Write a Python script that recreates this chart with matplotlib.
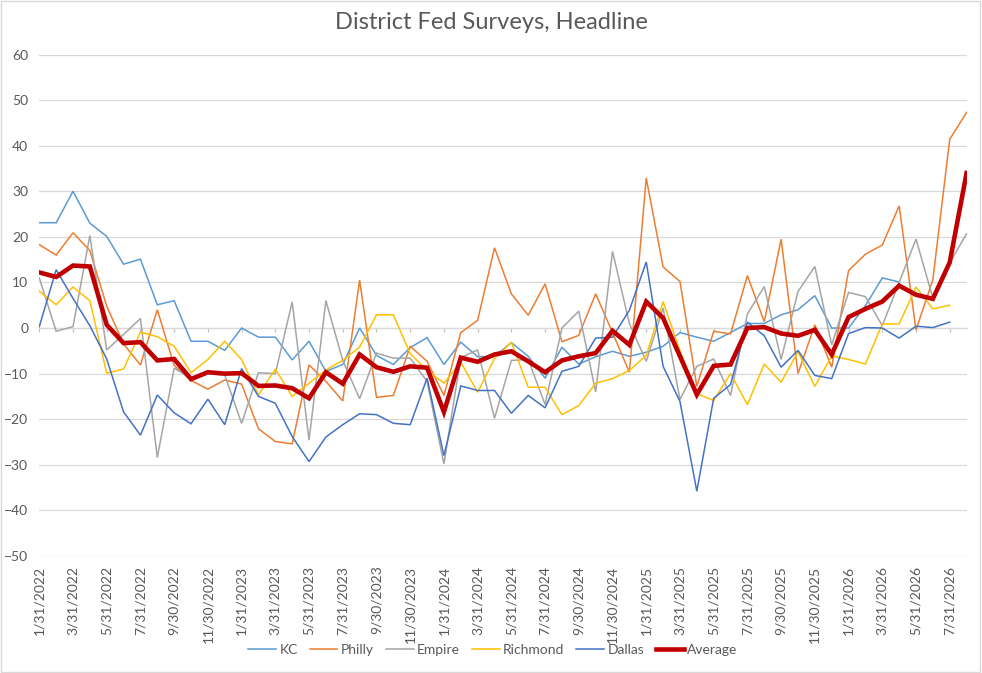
import numpy as np
import pandas as pd
import matplotlib
matplotlib.use("Agg")
import matplotlib.pyplot as plt
from matplotlib.patches import Rectangle

plt.rcParams['font.family'] = ['Lato', 'DejaVu Sans']

nan = np.nan
dates = pd.date_range("2022-01-31", periods=56, freq="ME")

kc = [23.1, 23.1, 30.0, 23.0, 20.1, 14.0, 15.1, 5.1, 6.0, -2.9,
      -2.9, -4.9, 0.0, -2.0, -2.0, -7.0, -2.9, -9.5, -8.0, 0.0,
      -6.0, -8.0, -4.3, -2.1, -8.0, -3.1, -6.3, -6.2, -3.2, -6.2,
      -11.0, -4.2, -7.9, -6.3, -5.1, -6.2, -5.3, -4.0, -1.0, -2.0,
      -2.9, -1.0, 1.0, 1.0, 2.9, 4.0, 7.1, 0.0, 0.0, 4.9,
      11.0, 10.1, nan, nan, nan, nan]
philly = [18.3, 16.0, 20.9, 17.0, 4.8, -3.5, -8.1, 4.0, -8.2, -11.5,
          -13.4, -11.4, -12.3, -22.1, -24.9, -25.4, -8.1, -11.7, -16.0, 10.5,
          -15.2, -14.8, -4.0, -7.3, -14.8, -1.0, 1.7, 17.6, 7.5, 2.8,
          9.7, -3.0, -1.6, 7.5, -1.0, -9.7, 32.9, 13.4, 10.2, -12.8,
          -0.7, -1.3, 11.5, 1.4, 19.5, -10.0, 0.7, -8.6, 12.6, 16.2,
          18.2, 26.8, -0.4, 10.6, 41.4, 47.3]
empire = [11.0, -0.7, 0.3, 20.3, -4.8, -1.4, 2.1, -28.4, -8.8, -11.0,
          -10.0, -10.3, -20.9, -9.8, -10.0, 5.7, -24.6, 6.0, -7.1, -15.5,
          -5.5, -6.6, -6.6, -11.7, -29.8, -6.5, -4.8, -19.8, -7.1, -6.9,
          -16.8, 0.0, 3.7, -14.0, 16.8, 1.0, -7.3, 4.4, -15.7, -8.4,
          -6.8, -14.8, 3.1, 9.1, -6.9, 8.0, 13.5, -3.7, 7.8, 6.9,
          0.5, 10.0, 19.5, 6.6, 14.3, 20.7]
richmond = [8.1, 5.1, 9.0, 6.0, -9.9, -9.0, -0.9, -1.9, -4.0, -9.8,
            -6.9, -2.9, -6.9, -14.7, -9.0, -15.0, -12.1, -9.2, -7.1, -4.2,
            2.9, 2.9, -5.6, -9.3, -12.1, -7.5, -14.1, -6.7, -3.1, -13.0,
            -13.0, -19.0, -17.0, -12.1, -11.1, -9.3, -6.0, 5.8, -5.0, -14.4,
            -15.9, -10.0, -16.8, -7.9, -11.9, -5.2, -12.8, -6.1, -6.9, -7.9,
            0.9, 0.9, 9.0, 4.2, 5.0, nan]
dallas = [0.3, 12.8, 6.5, 0.5, -6.8, -18.4, -23.5, -14.7, -18.6, -21.0,
          -15.6, -21.2, -8.9, -15.0, -16.5, -23.8, -29.3, -23.9, -21.2, -18.8,
          -19.0, -20.9, -21.2, -11.0, -28.0, -12.7, -13.7, -13.7, -18.7, -14.8,
          -17.5, -9.5, -8.4, -2.2, -2.0, 3.9, 14.5, -8.4, -16.1, -35.8,
          -15.4, -12.4, 1.3, -1.7, -8.6, -4.9, -10.4, -11.1, -1.2, 0.1,
          0.0, -2.2, 0.4, 0.1, 1.3, nan]
average = [12.2, 11.2, 13.7, 13.5, 0.7, -3.3, -3.1, -7.1, -6.8, -11.2,
           -9.7, -10.0, -9.9, -12.7, -12.6, -13.2, -15.4, -9.7, -12.2, -5.8,
           -8.6, -9.6, -8.4, -8.7, -18.4, -6.5, -7.4, -5.8, -5.1, -7.3,
           -9.7, -7.1, -6.2, -5.5, -0.6, -3.7, 5.8, 2.2, -6.2, -14.6,
           -8.3, -8.0, 0.0, 0.2, -1.2, -1.7, -0.4, -5.8, 2.4, 4.2,
           5.8, 9.3, 7.3, 6.4, 14.4, 34.0]

series_names = ["KC", "Philly", "Empire", "Richmond", "Dallas", "Average"]
series_values = [kc, philly, empire, richmond, dallas, average]
colors = ["#5B9BD5", "#ED7D31", "#A5A5A5", "#FFC000", "#4472C4", "#C00000"]
widths = [1.1, 1.1, 1.1, 1.1, 1.1, 3.3]

yticks = list(range(-50, 61, 10))
tick_idx = list(range(0, 56, 2))
tick_labels = [f"{d.month}/{d.day}/{d.year}" for d in dates[tick_idx]]

fig = plt.figure(figsize=(9.82, 6.73), dpi=100)
fig.patches.append(Rectangle((0.001, 0.001), 0.997, 0.997, transform=fig.transFigure,
                             fill=False, edgecolor="#D9D9D9", linewidth=1.0))
ax = fig.add_axes([0.0400, 0.1739, 0.9443, 0.7451])

x = np.arange(len(dates))
for name, vals, c, lw in zip(series_names, series_values, colors, widths):
    ax.plot(x, vals, color=c, linewidth=lw, label=name, solid_joinstyle="miter", zorder=3)

ax.set_xlim(0, len(dates) - 1)
ax.set_ylim(-50, 60)
ax.set_yticks(yticks)
ax.yaxis.grid(True, color="#D9D9D9", linewidth=0.9, zorder=0)
ax.set_axisbelow(True)
for s in ["top", "right", "left"]:
    ax.spines[s].set_visible(False)
ax.spines["bottom"].set_position(("data", 0))
ax.spines["bottom"].set_color("#D9D9D9")
ax.spines["bottom"].set_linewidth(0.9)
ax.set_xticks(tick_idx)
ax.tick_params(axis="x", direction="out", length=3, color="#BFBFBF", labelbottom=False)
ax.tick_params(axis="y", length=0, pad=8, labelsize=10, labelcolor="#595959")

for i, lab in zip(tick_idx, tick_labels):
    ax.annotate(lab, xy=(i, 0), xycoords=("data", "axes fraction"), xytext=(0, -7),
                textcoords="offset points", rotation=90, ha="center", va="top",
                fontsize=10, color="#595959")

fig.text(0.5, 0.966, "District Fed Surveys, Headline", ha="center", va="center",
         fontsize=17, color="#595959")

leg = fig.legend(loc="center", bbox_to_anchor=(0.502, 0.034), ncol=6, frameon=False,
                 handlelength=2.0, columnspacing=0.85, handletextpad=0.25, fontsize=10)
for t in leg.get_texts():
    t.set_color("#595959")

fig.savefig("out.png", dpi=100)
